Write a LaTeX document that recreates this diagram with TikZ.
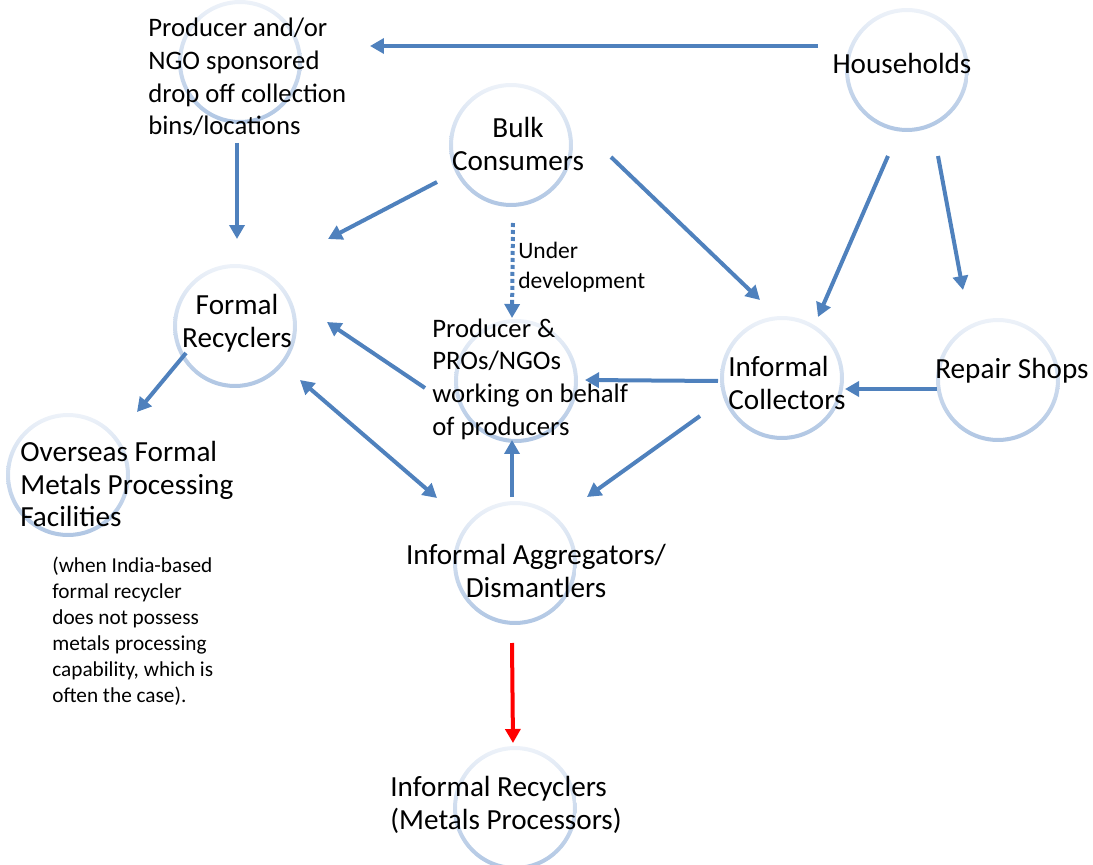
\documentclass[tikz,border=0pt]{standalone}
\usepackage{fontspec}
\setmainfont{Carlito}
\usetikzlibrary{arrows.meta, calc}
\definecolor{FlowBlue}{HTML}{4F81BD}
\definecolor{FlowRed}{HTML}{FF0000}
\definecolor{RingTop}{HTML}{EDF2F9}
\definecolor{RingBot}{HTML}{B0C6E3}

\begin{document}
\begin{tikzpicture}[
    x=0.02cm, y=-0.02cm,
    ring/.style={circle, minimum size=2.48cm, inner sep=0pt, outer sep=0pt,
                 path picture={\shade[top color=RingTop, bottom color=RingBot, even odd rule]
                   (path picture bounding box.center) circle (1.24cm) circle (1.16cm);}},
    lbl/.style={font=\fontsize{16.6}{18.6}\selectfont, inner sep=0pt, align=left},
    lblc/.style={lbl, align=center},
    lbls/.style={lbl, font=\fontsize{15.2}{18.6}\selectfont},
    note/.style={font=\fontsize{12.1}{14.8}\selectfont, inner sep=0pt, align=left},
    devnote/.style={font=\fontsize{13.4}{17}\selectfont, inner sep=0pt, align=left},
    arrow/.style={-{Triangle[length=0.28cm, width=0.3cm]}, line width=0.08cm, color=FlowBlue},
    both/.style={arrow, {Triangle[length=0.28cm, width=0.3cm]}-{Triangle[length=0.28cm, width=0.3cm]}},
    dotarrow/.style={arrow, dash pattern=on 0.08cm off 0.06cm},
    redarrow/.style={arrow, color=FlowRed}
]
\clip (0,0) rectangle (1093,865);

% rings
\node[ring] (house) at (907,70) {};
\node[ring] (drop) at (240,62) {};
\node[ring] (bulk) at (511,145) {};
\node[ring] (formal) at (235,326) {};
\node[ring] (overseas) at (68,475) {};
\node[ring] (pro) at (516,381) {};
\node[ring] (icoll) at (782,378) {};
\node[ring] (repair) at (998,380) {};
\node[ring] (aggr) at (515,563) {};
\node[ring] (irecy) at (515,808) {};

% texts
\node[lbl] (house-t) at (902,63) {Households};
\node[lbls, anchor=west] (drop-t) at (148,77) {Producer and/or\\NGO sponsored\\drop off collection\\bins/locations};
\node[lblc] (bulk-t) at (518,144) {Bulk\\Consumers};
\node[lblc] (formal-t) at (237,323) {Formal\\Recyclers};
\node[lbl, anchor=west] (overseas-t) at (20,484) {Overseas Formal\\Metals Processing\\Facilities};
\node[note, anchor=west] (overseas-n) at (52,631) {(when India-based\\formal recycler\\does not possess\\metals processing\\capability, which is\\often the case).};
\node[lbls, anchor=west] (pro-t) at (432,379) {Producer \&\\PROs/NGOs\\working on behalf\\of producers};
\node[lbl, anchor=west] (icoll-t) at (728,383) {Informal\\Collectors};
\node[lbl] (repair-t) at (1012,371) {Repair Shops};
\node[lblc] (aggr-t) at (536,571) {Informal Aggregators/\\Dismantlers};
\node[lbl, anchor=west] (irecy-t) at (390,805) {Informal Recyclers\\(Metals Processors)};
\node[devnote, anchor=west] (dev-t) at (518,267) {Under\\development};

% flows
\draw[arrow] ($(house)+(-89,-24)$) -- ($(drop)+(130,-16)$);
\draw[arrow] ($(drop)+(-3,81)$) -- ($(formal)+(2,-87)$);
\draw[arrow] ($(bulk)+(-74,37)$) -- ($(formal)+(93,-87)$);
\draw[arrow] ($(bulk)+(100,12)$) -- ($(icoll)+(-22,-78)$);
\draw[dotarrow] ($(bulk)+(2,78)$) -- ($(pro)+(-4,-63)$);
\draw[arrow] ($(house)+(-19,86)$) -- ($(icoll)+(36,-61)$);
\draw[arrow] ($(house)+(31,86)$) -- ($(repair)+(-35,-90)$);
\draw[arrow] ($(repair)+(-61,9)$) -- ($(icoll)+(63,11)$);
\draw[arrow] ($(icoll)+(-64,3)$) -- ($(pro)+(69,-1)$);
\draw[arrow] ($(icoll)+(-82,38)$) -- ($(aggr)+(72,-66)$);
\draw[arrow] ($(pro)+(-91,7)$) -- ($(formal)+(92,-4)$);
\draw[both] ($(formal)+(65,54)$) -- ($(aggr)+(-78,-65)$);
\draw[arrow] ($(aggr)+(-3,-66)$) -- ($(pro)+(-4,59)$);
\draw[arrow] ($(formal)+(-49,27)$) -- ($(overseas)+(69,-63)$);
\draw[redarrow] ($(aggr)+(-3,80)$) -- ($(irecy)+(-2,-65)$);

\end{tikzpicture}
\end{document}
